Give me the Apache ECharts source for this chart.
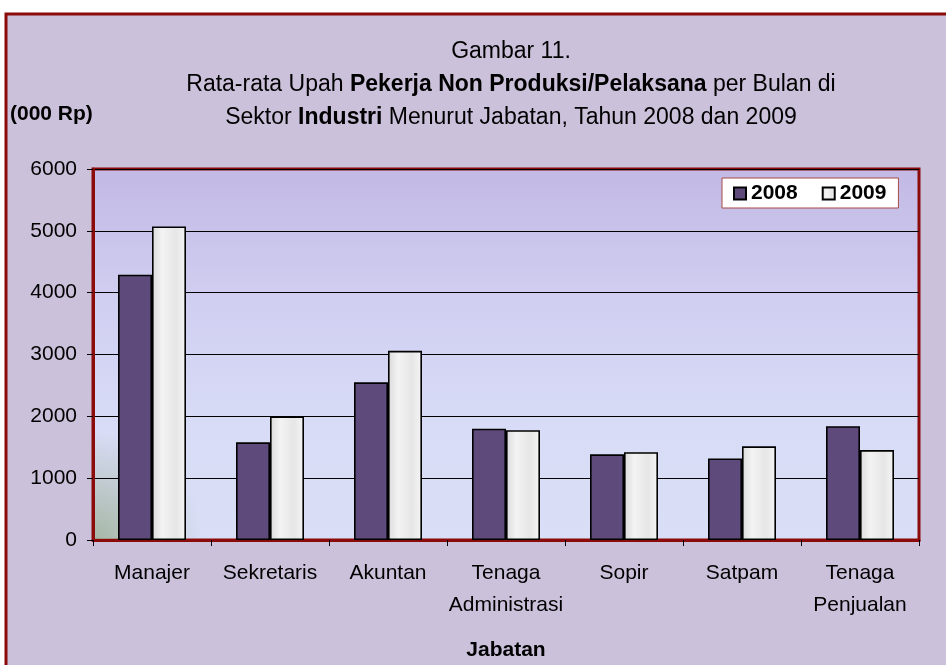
<!DOCTYPE html>
<html>
<head>
<meta charset="utf-8">
<script src="https://cdn.jsdelivr.net/npm/echarts@6/dist/echarts.min.js"></script>
<style>
  html, body { margin: 0; padding: 0; background: #ffffff; }
  #chart { width: 946px; height: 665px; }
</style>
</head>
<body>
<div id="chart"></div>
<script>
// data
const categories = ['Manajer', 'Sekretaris', 'Akuntan', 'Tenaga\nAdministrasi', 'Sopir', 'Satpam', 'Tenaga\nPenjualan'];
const values2008 = [4290, 1580, 2550, 1800, 1385, 1320, 1840];
const values2009 = [5070, 2000, 3060, 1775, 1420, 1515, 1455];
const yTicks = [0, 1000, 2000, 3000, 4000, 5000, 6000];

const FONT = '"Liberation Sans", Arial, sans-serif';

const chart = echarts.init(document.getElementById('chart'));

chart.setOption({
    backgroundColor: '#ffffff',
    animation: false,
    textStyle: { fontFamily: FONT, color: '#000' },
    graphic: [
        {
            type: 'rect',
            z: -10,
            shape: { x: 6, y: 14, width: 980, height: 700 },
            style: { fill: '#CCC1DB', stroke: '#8B0A0A', lineWidth: 3 }
        },
        {
            type: 'text',
            left: 10,
            top: 104,
            style: { text: '(000 Rp)', font: 'bold 21px ' + FONT, fill: '#000' }
        },
        {
            // title, three centred lines
            type: 'text',
            x: 511,
            y: 35,
            style: {
                text: '{n|Gambar 11.}\n{n|Rata-rata Upah }{b|Pekerja Non Produksi/Pelaksana}{n| per Bulan di}\n{n|Sektor }{b|Industri}{n| Menurut Jabatan, Tahun 2008 dan 2009}',
                align: 'center',
                verticalAlign: 'top',
                rich: {
                    n: { fontSize: 23, fontFamily: FONT, fill: '#000', fontWeight: 'normal', lineHeight: 33 },
                    b: { fontSize: 23, fontFamily: FONT, fill: '#000', fontWeight: 'bold', lineHeight: 33 }
                }
            }
        },
        {
            // greenish tint bottom-left of plot
            type: 'rect',
            z: 0,
            shape: { x: 95, y: 420, width: 360, height: 119 },
            style: {
                fill: new echarts.graphic.RadialGradient(0, 1, 0.9, [
                    { offset: 0, color: 'rgba(150,170,140,0.75)' },
                    { offset: 1, color: 'rgba(150,170,140,0)' }
                ])
            }
        }
    ],
    legend: {
        left: 722,
        top: 178,
        padding: [5, 12, 4, 11],
        backgroundColor: '#ffffff',
        borderColor: '#A84848',
        borderWidth: 1,
        itemWidth: 12,
        itemHeight: 12,
        itemGap: 24,
        icon: 'rect',
        textStyle: { fontSize: 21, fontWeight: 'bold', fontFamily: FONT, color: '#000' },
        data: ['2008', '2009']
    },
    grid: {
        left: 93,
        right: 27,
        top: 169,
        bottom: 125,
        outerBoundsMode: 'none',
        show: true,
        borderColor: '#8B0A0A',
        borderWidth: 3,
        backgroundColor: new echarts.graphic.LinearGradient(0, 0, 0, 1, [
            { offset: 0, color: '#C2B9E4' },
            { offset: 0.35, color: '#D0CEF1' },
            { offset: 0.7, color: '#D8DCF6' },
            { offset: 1, color: '#D9DFF6' }
        ])
    },
    xAxis: {
        type: 'category',
        data: categories,
        axisLine: { show: true, lineStyle: { color: '#8B0A0A', width: 3 } },
        axisTick: { show: true, length: 6, lineStyle: { color: '#000' } },
        axisLabel: { interval: 0, fontSize: 21, fontFamily: FONT, color: '#000', margin: 17, lineHeight: 32 },
        name: 'Jabatan',
        nameLocation: 'middle',
        nameGap: 100,
        nameTextStyle: { fontSize: 21, fontWeight: 'bold', fontFamily: FONT, color: '#000' }
    },
    yAxis: {
        type: 'value',
        min: yTicks[0],
        max: yTicks[yTicks.length - 1],
        interval: 1000,
        axisLine: { show: true, lineStyle: { color: '#8B0A0A', width: 3 } },
        axisTick: { show: true, length: 6, lineStyle: { color: '#000' } },
        axisLabel: { fontSize: 21, fontFamily: FONT, color: '#000', margin: 16, formatter: v => String(v) },
        splitLine: { show: true, lineStyle: { color: '#000', width: 1.2 } }
    },
    series: [
        {
            name: '2008',
            type: 'bar',
            data: values2008,
            barWidth: 34,
            barGap: '0%',
            itemStyle: { color: '#5F4A7C', borderColor: '#000', borderWidth: 1.6 }
        },
        {
            name: '2009',
            type: 'bar',
            data: values2009,
            barWidth: 34,
            itemStyle: {
                color: new echarts.graphic.LinearGradient(0, 0, 1, 0, [
                    { offset: 0, color: '#DADADA' },
                    { offset: 0.3, color: '#F3F3F3' },
                    { offset: 0.7, color: '#E6E6E6' },
                    { offset: 1, color: '#F5F5F5' }
                ]),
                borderColor: '#000',
                borderWidth: 1.6
            }
        }
    ]
});
</script>
</body>
</html>
